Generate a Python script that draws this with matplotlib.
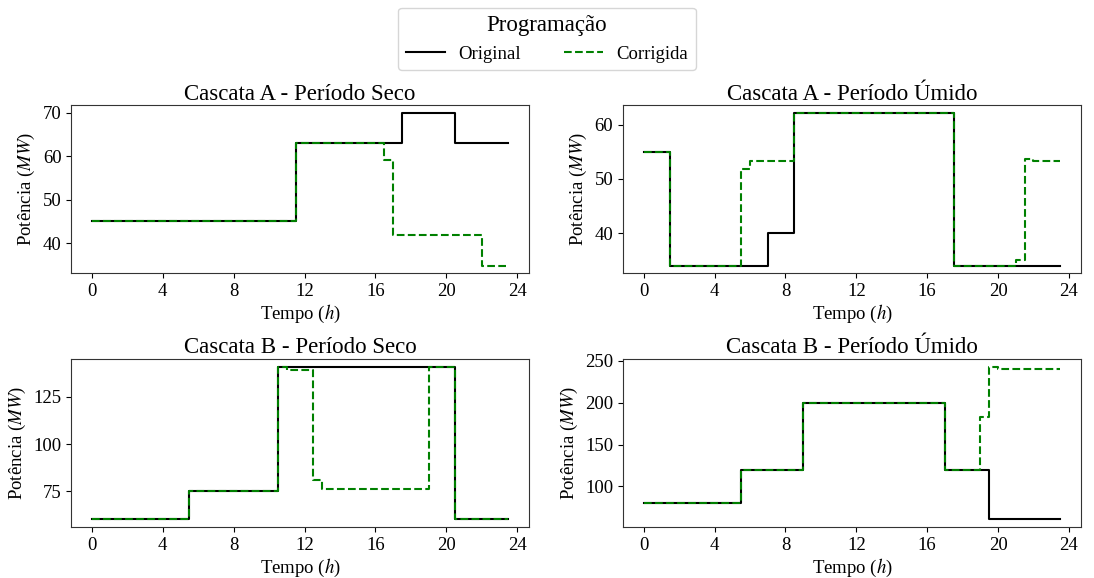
import matplotlib
matplotlib.use("Agg")
import matplotlib.pyplot as plt
import numpy as np

plt.rcParams["font.family"] = ["Liberation Serif", "DejaVu Serif"]
plt.rcParams["mathtext.fontset"] = "stix"

# tempo em passos de meia hora
horas = np.arange(0, 24, 0.5)

# (início do degrau, valor) -- cada valor vale até o próximo degrau
a_seco_orig = [(0, 45), (11.5, 63), (17.5, 70), (20.5, 63)]
a_seco_corr = [(0, 45), (11.5, 63), (16.5, 59.2), (17, 41.8), (22, 34.8)]

a_umido_orig = [(0, 55), (1.5, 34), (7, 40), (8.5, 62.2), (17.5, 34)]
a_umido_corr = [(0, 55), (1.5, 34), (5.5, 51.9), (6, 53.3), (8.5, 62.2),
                (17.5, 34), (21, 35.1), (21.5, 53.7), (22, 53.3)]

b_seco_orig = [(0, 60), (5.5, 75), (10.5, 141), (20.5, 60)]
b_seco_corr = [(0, 60), (5.5, 75), (10.5, 141), (11, 139.3), (12.5, 80.8),
               (13, 76.4), (19, 141), (20.5, 60)]

b_umido_orig = [(0, 80), (5.5, 120), (9, 200), (17, 120), (19.5, 60.5)]
b_umido_corr = [(0, 80), (5.5, 120), (9, 200), (17, 120), (19, 182.6),
                (19.5, 243), (20, 240.7)]


def serie(degraus):
    vals = np.zeros_like(horas)
    for t, v in degraus:
        vals[horas >= t] = v
    return vals


paineis = [
    ("Cascata A - Período Seco", a_seco_orig, a_seco_corr, None),
    ("Cascata A - Período Úmido", a_umido_orig, a_umido_corr, None),
    ("Cascata B - Período Seco", b_seco_orig, b_seco_corr, [75, 100, 125]),
    ("Cascata B - Período Úmido", b_umido_orig, b_umido_corr, [100, 150, 200, 250]),
]

fig, axes = plt.subplots(2, 2, figsize=(10.94, 5.78), dpi=100)
fig.subplots_adjust(left=0.065, right=0.988, top=0.818, bottom=0.088,
                    wspace=0.205, hspace=0.51)

for ax, (titulo, orig, corr, yt) in zip(axes.flat, paineis):
    ax.plot(horas, serie(orig), drawstyle="steps-post", color="black",
            lw=1.5, label="Original")
    ax.plot(horas, serie(corr), drawstyle="steps-post", color="green",
            ls="--", lw=1.5, label="Corrigida")
    ax.set_title(titulo, fontsize=16.5, pad=4)
    ax.set_xlabel("Tempo ($h$)", fontsize=13.5, labelpad=2)
    ax.set_ylabel("Potência ($MW$)", fontsize=13.5)
    ax.set_xticks([0, 4, 8, 12, 16, 20, 24])
    if yt is not None:
        ax.set_yticks(yt)
    ax.tick_params(labelsize=13.5)
    for s in ax.spines.values():
        s.set_color("#333333")

handles, labels = axes[0, 0].get_legend_handles_labels()
fig.legend(handles, labels, loc="upper center", ncol=2, title="Programação",
           fontsize=13.5, title_fontsize=16.5, bbox_to_anchor=(0.5, 1.003),
           columnspacing=2.3, handlelength=2.1, handletextpad=0.7)

plt.savefig("out.png", dpi=100)
plt.close()
